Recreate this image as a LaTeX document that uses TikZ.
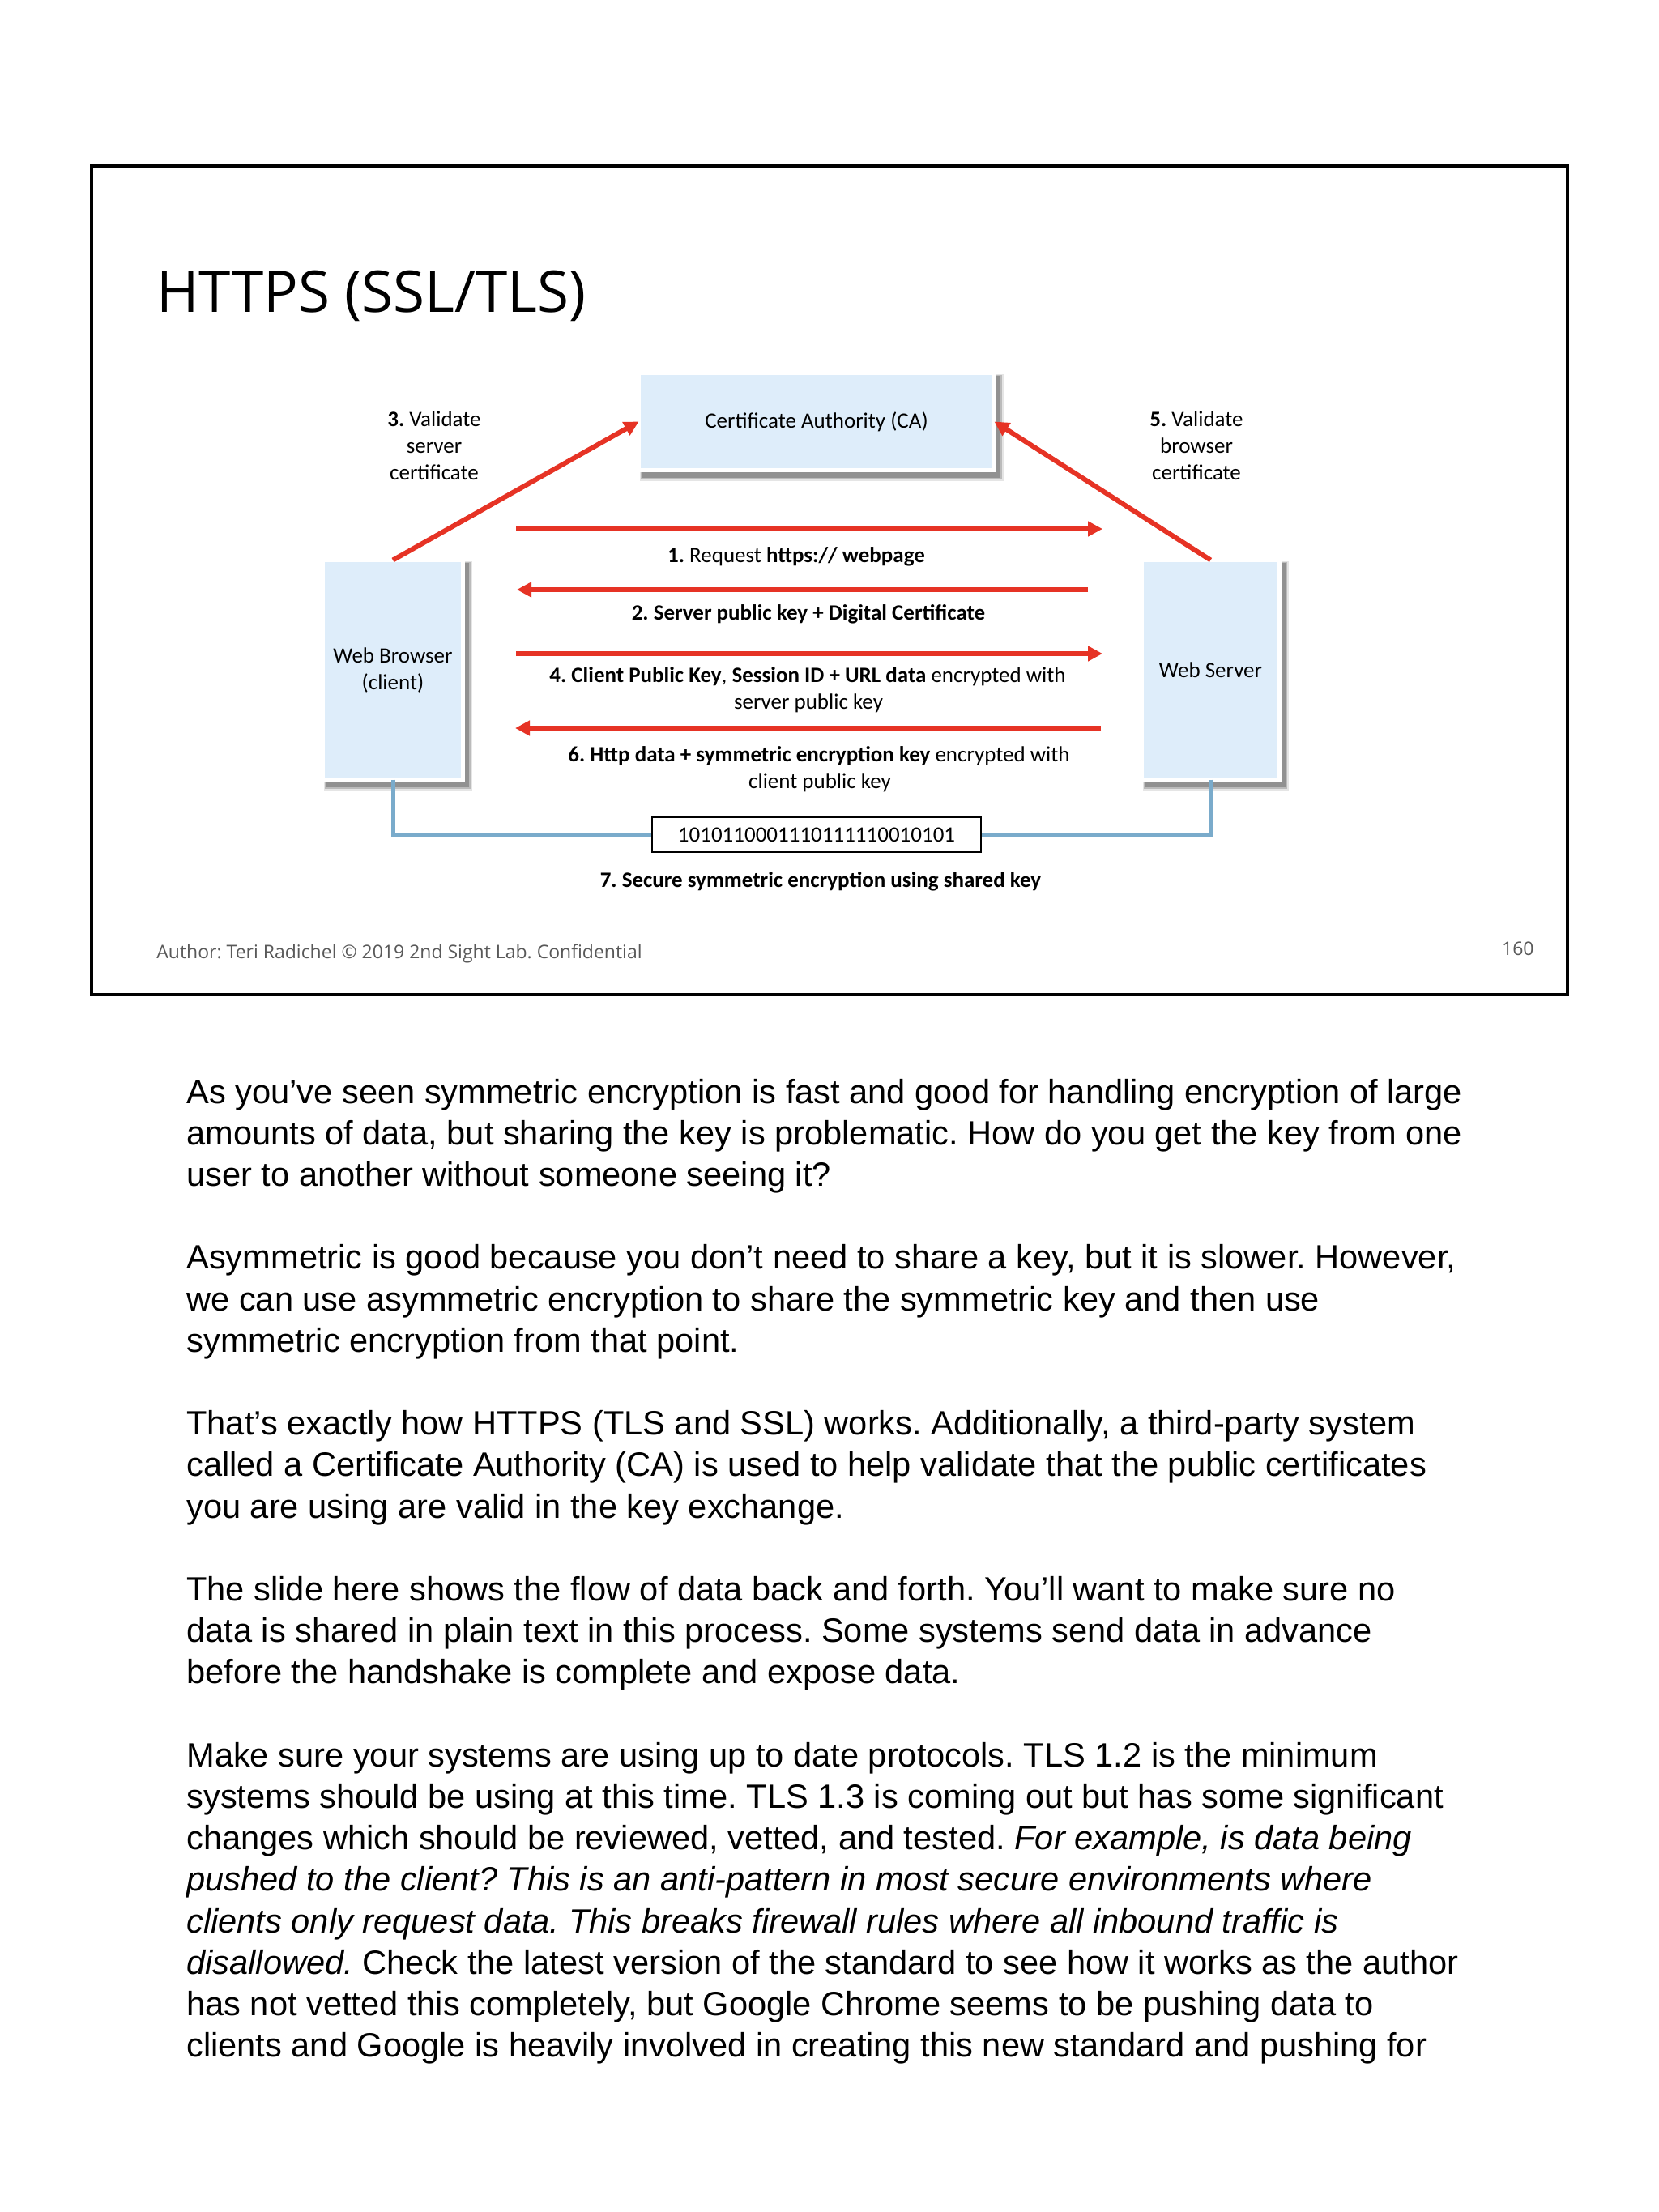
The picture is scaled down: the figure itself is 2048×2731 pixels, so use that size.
\documentclass[tikz,border=0pt]{standalone}
\usepackage{fontspec}
\setmainfont{Liberation Sans}
\newfontfamily\osans{Open Sans}
\newfontfamily\carl{Carlito}
\usetikzlibrary{arrows.meta}
\frenchspacing
\definecolor{arrowred}{RGB}{230,51,37}
\definecolor{boxblue}{RGB}{222,237,250}
\definecolor{linkblue}{RGB}{122,171,203}
\definecolor{footgray}{RGB}{89,89,89}
\newcommand\myshadow[4]{%
  \fill[black,opacity=0.10] (#1+4,#2+4) rectangle (#3+9,#4+11);
  \fill[black,opacity=0.18] (#1+5,#2+5) rectangle (#3+7,#4+9);
  \fill[black,opacity=0.22] (#1+6,#2+6) rectangle (#3+5,#4+7);
}
\tikzset{
  dfont/.style={font=\carl\fontsize{13.5pt}{16.5pt}\selectfont},
  entity/.style={dfont, fill=boxblue, draw=white, line width=2.5pt, inner sep=0pt, outer sep=0pt, align=center},
  redarr/.style={draw=arrowred, line width=3pt, -{Triangle[length=9pt,width=9pt]}},
  lbl/.style={dfont, anchor=base, inner sep=0pt},
  bodyline/.style={font=\fontsize{20.8pt}{25.6pt}\selectfont, anchor=base west, inner sep=0pt},
  linkline/.style={draw=linkblue, line width=2.5pt},
}
\begin{document}
\begin{tikzpicture}[x=0.5pt,y=-0.5pt]
\useasboundingbox (0,0) rectangle (2048,2731);
\fill[white] (0,0) rectangle (2048,2731);
% slide frame
\draw[line width=1.75pt] (113,205) rectangle (1935,1228);
% title
\node[anchor=base west, inner sep=0pt, font=\osans\fontsize{35.5pt}{40pt}\selectfont] (title) at (193,385) {HTTPS (SSL/TLS)};
% shadows
\myshadow{786}{458}{1230}{583}
\myshadow{396}{689}{574}{965}
\myshadow{1407}{689}{1582}{965}
% entity boxes
\node[entity, minimum width=219.5pt, minimum height=60pt] (ca) at (1008,520.5) {Certificate Authority (CA)};
\node[entity, minimum width=86.5pt, minimum height=135.5pt] (wb) at (485,827) {Web Browser\\(client)};
\node[entity, minimum width=85pt, minimum height=135.5pt] (ws) at (1494.5,827) {Web Server};
% validation labels
\node[lbl] (v3a) at (536,526) {\textbf{3.} Validate};
\node[lbl] (v3b) at (536,559) {server};
\node[lbl] (v3c) at (536,592) {certificate};
\node[lbl] (v5a) at (1477,526) {\textbf{5.} Validate};
\node[lbl] (v5b) at (1477,559) {browser};
\node[lbl] (v5c) at (1477,592) {certificate};
% diagonal arrows to CA
\draw[redarr] (wb.north) -- (ca.west);
\draw[redarr] (ws.north) -- (ca.east);
% horizontal message arrows
\coordinate (m1s) at (637,653);   \coordinate (m1e) at (1361,653);
\coordinate (m2s) at (1343,728);  \coordinate (m2e) at (638,728);
\coordinate (m4s) at (637,807);   \coordinate (m4e) at (1361,807);
\coordinate (m6s) at (1359,899);  \coordinate (m6e) at (636,899);
\draw[redarr] (m1s) -- (m1e);
\draw[redarr] (m2s) -- (m2e);
\draw[redarr] (m4s) -- (m4e);
\draw[redarr] (m6s) -- (m6e);
% message labels
\node[lbl] (t1) at (983,694) {\textbf{1.} Request \textbf{https:// webpage}};
\node[lbl] (t2) at (998,765) {\textbf{2. Server public key + Digital Certificate}};
\node[lbl] (t4a) at (997,842) {\textbf{4. Client Public Key}, \textbf{Session ID + URL data} encrypted with};
\node[lbl] (t4b) at (998,875) {server public key};
\node[lbl] (t6a) at (1011,940) {\textbf{6. Http data + symmetric encryption key} encrypted with};
\node[lbl] (t6b) at (1012,973) {client public key};
% shared key channel
\node[dfont, draw=black, line width=1pt, fill=white, minimum width=203pt, minimum height=21.5pt, inner sep=0pt] (bin) at (1008,1030.5) {};
\draw[linkline] (wb.south) |- (bin.west);
\draw[linkline] (ws.south) |- (bin.east);
\node[lbl] (bintxt) at (1008,1039) {1010110001110111110010101};
\node[lbl] (t7) at (1013,1095) {\textbf{7. Secure symmetric encryption using shared key}};
% footer
\node[anchor=base west, inner sep=0pt, font=\osans\fontsize{11.5pt}{14pt}\selectfont, text=footgray] (author) at (193,1183) {Author: Teri Radichel © 2019 2nd Sight Lab. Confidential};
\node[anchor=base east, inner sep=0pt, font=\osans\fontsize{11.5pt}{14pt}\selectfont, text=footgray] (pgnum) at (1894,1179) {160};
% notes text
\node[bodyline] (b1) at (230,1362) {As you’ve seen symmetric encryption is fast and good for handling encryption of large};
\node[bodyline] (b2) at (230,1413.2) {amounts of data, but sharing the key is problematic. How do you get the key from one};
\node[bodyline] (b3) at (230,1464.4) {user to another without someone seeing it?};
\node[bodyline] (b4) at (230,1566.8) {Asymmetric is good because you don’t need to share a key, but it is slower. However,};
\node[bodyline] (b5) at (230,1618) {we can use asymmetric encryption to share the symmetric key and then use};
\node[bodyline] (b6) at (230,1669.2) {symmetric encryption from that point.};
\node[bodyline] (b7) at (230,1771.6) {That’s exactly how HTTPS (TLS and SSL) works. Additionally, a third-party system};
\node[bodyline] (b8) at (230,1822.8) {called a Certificate Authority (CA) is used to help validate that the public certificates};
\node[bodyline] (b9) at (230,1874) {you are using are valid in the key exchange.};
\node[bodyline] (b10) at (230,1976.4) {The slide here shows the flow of data back and forth. You’ll want to make sure no};
\node[bodyline] (b11) at (230,2027.6) {data is shared in plain text in this process. Some systems send data in advance};
\node[bodyline] (b12) at (230,2078.8) {before the handshake is complete and expose data.};
\node[bodyline] (b13) at (230,2181.2) {Make sure your systems are using up to date protocols. TLS 1.2 is the minimum};
\node[bodyline] (b14) at (230,2232.4) {systems should be using at this time. TLS 1.3 is coming out but has some significant};
\node[bodyline] (b15) at (230,2283.6) {changes which should be reviewed, vetted, and tested. \textit{For example, is data being}};
\node[bodyline] (b16) at (230,2334.8) {\textit{pushed to the client? This is an anti-pattern in most secure environments where}};
\node[bodyline] (b17) at (230,2386) {\textit{clients only request data. This breaks firewall rules where all inbound traffic is}};
\node[bodyline] (b18) at (230,2437.2) {\textit{disallowed.} Check the latest version of the standard to see how it works as the author};
\node[bodyline] (b19) at (230,2488.4) {has not vetted this completely, but Google Chrome seems to be pushing data to};
\node[bodyline] (b20) at (230,2539.6) {clients and Google is heavily involved in creating this new standard and pushing for};
\end{tikzpicture}
\end{document}
